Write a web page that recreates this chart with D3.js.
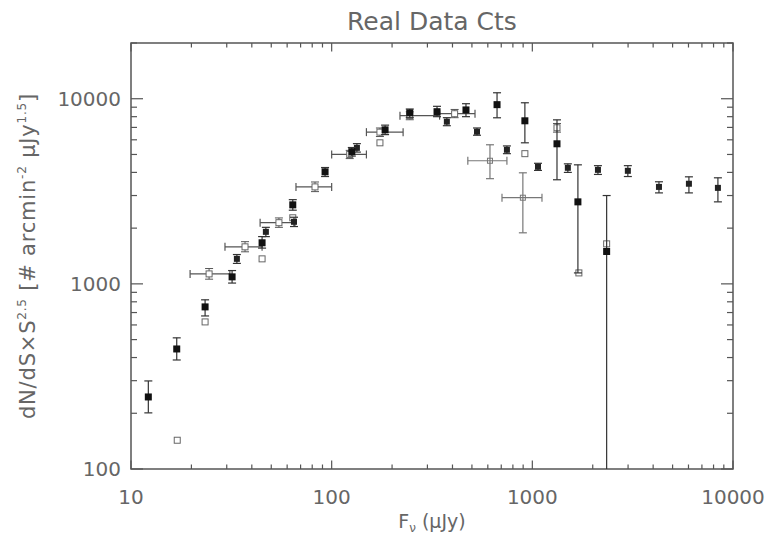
<!DOCTYPE html>
<html><head><meta charset="utf-8">
<script src="https://cdn.jsdelivr.net/npm/d3@7"></script>
<style>
body{margin:0;background:#fff;}
text{font-family:"DejaVu Sans",sans-serif;fill:#666;}
</style></head>
<body>
<svg id="c" width="769" height="544"></svg>
<script>
// ---- data ----
const title = "Real Data Cts";
const xTicks = [10, 100, 1000, 10000];
const yTicks = [100, 1000, 10000];
const xDomain = [10, 10000];
const yDomain = [100, 20000];

// filled squares (black), with y error bars
const fX  = [12.2, 16.9, 23.4, 31.9, 45, 64, 92.7, 126, 184.6, 245, 335, 467, 667, 918, 1327, 1687, 2346];
const fY  = [245, 445, 751, 1091, 1667, 2672, 4029, 5176, 6790, 8390, 8510, 8700, 9290, 7600, 5710, 2773, 1496];
const fLo = [201, 388, 671, 1010, 1560, 2500, 3800, 4900, 6400, 7900, 8000, 8000, 7890, 5780, 3650, 1146, 10];
const fHi = [299, 511, 820, 1180, 1800, 2850, 4250, 5450, 7200, 8800, 9100, 9400, 10770, 9510, 7690, 4395, 3000];

// second filled series (small black squares with error bars)
const sX  = [33.7, 47, 64.9, 133.6, 375, 530, 747, 1067, 1503, 2123, 2992, 4276, 6030, 8410];
const sY  = [1365, 1910, 2164, 5430, 7520, 6635, 5300, 4290, 4236, 4130, 4080, 3340, 3474, 3300];
const sLo = [1290, 1800, 2040, 5150, 7150, 6350, 5050, 4100, 4000, 3900, 3800, 3100, 3100, 2773];
const sHi = [1440, 2020, 2290, 5720, 7900, 6950, 5560, 4480, 4450, 4350, 4350, 3560, 3786, 3740];

// open squares (gray), some with x error bars
const oX   = [17, 23.4, 24.5, 37, 45, 54.6, 64, 82.6, 123, 174, 174, 245, 410, 918, 1327, 1706, 2346];
const oY   = [143, 623, 1132, 1585, 1365, 2140, 2275, 3340, 5000, 6600, 5780, 8100, 8300, 5050, 6970, 1146, 1645];
const oXLo = [null, null, 19.7, 29.4, null, 44, null, 66.4, 100, 149, null, 219, 345, null, null, null, null];
const oXHi = [null, null, 31.1, 45, null, 65.6, null, 100, 149, 227, null, 345, 518, null, null, null, null];
const oYLo = [null, null, 1060, 1490, null, 2020, null, 3150, 4750, 6250, null, 7700, 7900, null, 6600, null, null];
const oYHi = [null, null, 1210, 1690, null, 2270, null, 3550, 5260, 6950, null, 8500, 8750, null, 7350, null, null];

// open crosses (gray) with large x and y errors
const cX   = [615, 897];
const cY   = [4624, 2920];
const cXLo = [477, 706];
const cXHi = [747, 1117];
const cYLo = [3700, 1887];
const cYHi = [5640, 3980];

// ---- drawing ----
const svg = d3.select("#c");
const L = 131, R = 733, T = 43, B = 469;
const x = d3.scaleLog().domain(xDomain).range([L, R]);
const y = d3.scaleLog().domain(yDomain).range([B, T]);
const axisCol = "#555";

svg.append("defs").append("clipPath").attr("id","clip")
  .append("rect").attr("x",L).attr("y",T).attr("width",R-L).attr("height",B-T);

function logTicks(d){
  const out=[];
  for(let e=Math.floor(Math.log10(d[0])); e<=Math.ceil(Math.log10(d[1])); e++){
    for(let m=1;m<10;m++){const v=m*Math.pow(10,e); if(v>=d[0]*0.999 && v<=d[1]*1.001) out.push({v, major:m===1});}
  }
  return out;
}
const xt = logTicks(xDomain), yt = logTicks(yDomain);
const xMaj = 8.5, xMin = 4.5, yMaj = 12, yMin = 6;
const g = svg.append("g").attr("stroke", axisCol).attr("stroke-width", 1.2).attr("fill","none");
xt.forEach(t=>{
  const px = x(t.v), len = t.major? xMaj : xMin;
  g.append("line").attr("x1",px).attr("x2",px).attr("y1",B).attr("y2",B-len);
  g.append("line").attr("x1",px).attr("x2",px).attr("y1",T).attr("y2",T+len);
});
yt.forEach(t=>{
  const py = y(t.v), len = t.major? yMaj : yMin;
  g.append("line").attr("y1",py).attr("y2",py).attr("x1",L).attr("x2",L+len);
  g.append("line").attr("y1",py).attr("y2",py).attr("x1",R).attr("x2",R-len);
});
g.append("rect").attr("x",L).attr("y",T).attr("width",R-L).attr("height",B-T).attr("stroke-width",1.5);

// tick labels
svg.selectAll(".xl").data(xTicks).enter().append("text")
  .attr("x", d=>x(d)).attr("y", B+35).attr("text-anchor","middle")
  .attr("font-size", 20).text(d=>d);
svg.selectAll(".yl").data(yTicks).enter().append("text")
  .attr("x", L-10).attr("y", d=>y(d)+7).attr("text-anchor","end")
  .attr("font-size", 20).text(d=>d);

// title
svg.append("text").attr("x",(L+R)/2).attr("y",30).attr("text-anchor","middle")
  .attr("font-size",25).text(title);

// x title
const xtT = svg.append("text").attr("x",(L+R)/2).attr("y",528).attr("text-anchor","middle").attr("font-size",19);
xtT.append("tspan").text("F");
xtT.append("tspan").attr("font-size",12).attr("dy",4).text("ν");
xtT.append("tspan").attr("dy",-4).text(" (μJy)");

// y title
const ytT = svg.append("text").attr("transform",`translate(35,${(T+B)/2}) rotate(-90)`)
  .attr("text-anchor","middle").attr("font-size",21).attr("letter-spacing",0.8);
ytT.append("tspan").text("dN/dS×S");
ytT.append("tspan").attr("font-size",12).attr("dy",-9).text("2.5");
ytT.append("tspan").attr("dy",9).text(" [# arcmin");
ytT.append("tspan").attr("font-size",12).attr("dy",-9).text("-2");
ytT.append("tspan").attr("dy",9).text(" μJy");
ytT.append("tspan").attr("font-size",12).attr("dy",-9).text("1.5");
ytT.append("tspan").attr("dy",9).text("]");

const plot = svg.append("g").attr("clip-path","url(#clip)");
const cap = 4;
function vbar(gr, px, y0, y1, col, w){
  gr.append("line").attr("x1",px).attr("x2",px).attr("y1",y(y0)).attr("y2",y(y1)).attr("stroke",col).attr("stroke-width",w);
  [y0,y1].forEach(v=>gr.append("line").attr("x1",px-cap).attr("x2",px+cap).attr("y1",y(v)).attr("y2",y(v)).attr("stroke",col).attr("stroke-width",w));
}
function hbar(gr, py, x0, x1, col, w){
  gr.append("line").attr("y1",py).attr("y2",py).attr("x1",x(x0)).attr("x2",x(x1)).attr("stroke",col).attr("stroke-width",w);
  [x0,x1].forEach(v=>gr.append("line").attr("y1",py-cap).attr("y2",py+cap).attr("x1",x(v)).attr("x2",x(v)).attr("stroke",col).attr("stroke-width",w));
}

cX.forEach((v,i)=>{
  hbar(plot, y(cY[i]), cXLo[i], cXHi[i], "#777", 1.2);
  vbar(plot, x(v), cYLo[i], cYHi[i], "#777", 1.2);
  plot.append("rect").attr("x",x(v)-2.5).attr("y",y(cY[i])-2.5).attr("width",5).attr("height",5)
    .attr("fill","none").attr("stroke","#777");
});
oX.forEach((v,i)=>{
  if(oXLo[i]!=null) hbar(plot, y(oY[i]), oXLo[i], oXHi[i], "#555", 1.2);
  if(oYLo[i]!=null) vbar(plot, x(v), oYLo[i], oYHi[i], "#555", 1);
  plot.append("rect").attr("x",x(v)-3).attr("y",y(oY[i])-3).attr("width",6).attr("height",6)
    .attr("fill","#fff").attr("stroke","#666").attr("stroke-width",1);
});
sX.forEach((v,i)=>{
  vbar(plot, x(v), sLo[i], sHi[i], "#333", 1.2);
  plot.append("rect").attr("x",x(v)-3).attr("y",y(sY[i])-3).attr("width",6).attr("height",6).attr("fill","#222");
});
fX.forEach((v,i)=>{
  vbar(plot, x(v), fLo[i], fHi[i], "#333", 1.2);
  plot.append("rect").attr("x",x(v)-3.5).attr("y",y(fY[i])-3.5).attr("width",7).attr("height",7).attr("fill","#111");
});
</script>
</body></html>
